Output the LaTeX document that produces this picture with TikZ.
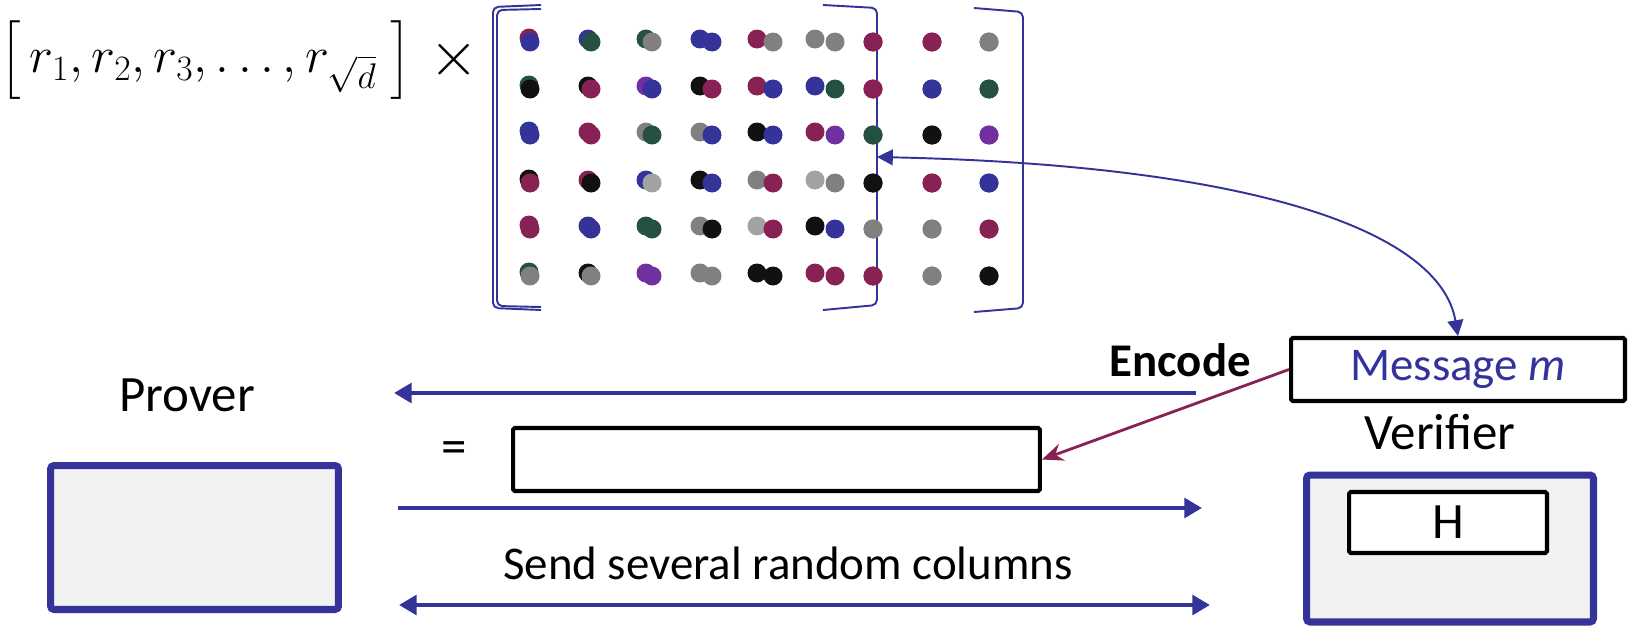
\RequirePackage{fix-cm}
\documentclass[tikz,border=0pt]{standalone}
\usepackage{amsmath}
\usepackage{exscale}
\usepackage{fontspec}
\setmainfont{Carlito}
\usepackage{tikz}
\usetikzlibrary{arrows.meta,shadows,positioning}

\definecolor{navy}{RGB}{51,51,153}
\definecolor{wine}{RGB}{137,34,84}
\definecolor{pine}{RGB}{38,80,64}
\definecolor{ash}{RGB}{128,128,128}
\definecolor{silver}{RGB}{162,162,162}
\definecolor{ink}{RGB}{17,17,17}
\definecolor{plum}{RGB}{112,48,160}
\definecolor{panel}{RGB}{242,242,242}

\tikzset{
  brk/.style={navy,line width=1.1pt,rounded corners=3pt},
  agent/.style={draw=navy,fill=panel,line width=4pt,rounded corners=2pt,
    minimum width=5.76cm,minimum height=2.88cm,
    drop shadow={opacity=0.2,shadow xshift=1.5pt,shadow yshift=-1.5pt}},
  slot/.style={draw=black,fill=white,line width=2.3pt,rounded corners=1pt,inner sep=0pt},
  lbl/.style={font=\fontsize{29}{34}\selectfont},
  txt/.style={font=\fontsize{26.7}{32}\selectfont},
  flow/.style={navy,line width=2.8pt,-{Triangle[length=10pt,width=11pt]}},
}

\begin{document}
\begin{tikzpicture}[x=0.02cm,y=-0.02cm]
  \useasboundingbox (0,0) rectangle (1633,629);

  % random row vector times matrix
  \node[font=\fontsize{29}{34}\selectfont,inner sep=0pt] (rvec) at (206,60)
    {$\bigl[\,r_1,r_2,r_3,\ldots,r_{\sqrt{d}}\;\bigr]$};
  \node[font=\fontsize{36}{42}\selectfont,inner sep=0pt] (times) at (454,60) {$\times$};

  % brackets
  \draw[brk] (541,5) -- (493,7) -- (493,308) -- (541,310);
  \draw[brk] (541,9) -- (497,10) -- (497,306) -- (541,307);
  \draw[brk] (823,5) -- (877,8) -- (877,305) -- (823,310);
  \draw[brk] (974,8) -- (1023,12) -- (1023,308) -- (974,312);

  % entries: back dot / front dot
  \foreach \y/\cl in {
    42/{wine/navy,navy/pine,pine/ash,navy/navy,wine/ash,ash/ash,wine/wine,wine/wine,ash/ash},
    89/{pine/ink,ink/wine,plum/navy,ink/wine,wine/navy,navy/pine,wine/wine,navy/navy,pine/pine},
    135/{navy/navy,wine/wine,ash/pine,ash/navy,ink/navy,wine/plum,pine/pine,ink/ink,plum/plum},
    183/{ink/wine,wine/ink,navy/silver,ink/navy,ash/wine,silver/ash,ink/ink,wine/wine,navy/navy},
    229/{wine/wine,navy/navy,pine/pine,ash/ink,silver/wine,ink/navy,ash/ash,ash/ash,wine/wine},
    276/{pine/ash,ink/ash,plum/plum,ash/ash,ink/ink,wine/wine,wine/wine,ash/ash,ink/ink}} {
    \foreach \bc/\fc [count=\i] in \cl {
      \pgfmathsetmacro\xf{{530,591,652,712,773,835,873,932,989}[\i-1]}
      \pgfmathsetmacro\dx{{1,3,6,12,16,20,0,0,0}[\i-1]}
      \pgfmathsetmacro\dy{{4,3,3,3,3,3,0,0,0}[\i-1]}
      \fill[\bc] (\xf-\dx,\y-\dy) circle[radius=0.19cm];
      \fill[\fc] (\xf,\y) circle[radius=0.19cm];
    }
  }
  \coordinate (cut) at (877,157);

  % prover and verifier
  \node[lbl] (prover) at (187,395) {Prover};
  \node[agent] (pbox) at (194.5,537.5) {};
  \node[lbl] (verifier) at (1440,432) {Verifier};
  \node[agent,minimum width=5.74cm,minimum height=2.94cm] (vbox) at (1450,548.5) {};
  \node[slot,lbl,minimum width=3.96cm,minimum height=1.22cm] (hash) at (1448,522.5) {H};
  \node[slot,txt,text=navy,minimum width=6.68cm,minimum height=1.26cm] (msg) at (1458,369.5) {Message \textit{m}};
  \node[slot,minimum width=10.54cm,minimum height=1.26cm] (cw) at (776.5,459.5) {};
  \node[lbl] (eq) at (454,453) {=};
  \node[txt] (enc) at (1180,360) {\textbf{Encode}};
  \node[txt] (send) at (788,563) {Send several random columns};

  % messages
  \coordinate (fetchR) at (1196,393);
  \coordinate (fetchL) at (394,393);
  \coordinate (sendL) at (398,508);
  \coordinate (sendR) at (1202,508);
  \coordinate (qryL) at (399,605);
  \coordinate (qryR) at (1210,605);
  \draw[flow] (fetchR) -- (fetchL);
  \draw[flow] (sendL) -- (sendR);
  \draw[flow,{Triangle[length=10pt,width=11pt]}-{Triangle[length=10pt,width=11pt]}] (qryL) -- (qryR);

  \draw[wine,line width=1.6pt,-{Stealth[length=12pt,width=10pt]}] (msg.west) -- (cw.east);
  \draw[navy,line width=1.1pt,{Triangle[length=9pt,width=9pt]}-{Triangle[length=9pt,width=9pt]}]
    (cut) .. controls (1250,165) and (1440,230) .. (msg.north);
\end{tikzpicture}
\end{document}
